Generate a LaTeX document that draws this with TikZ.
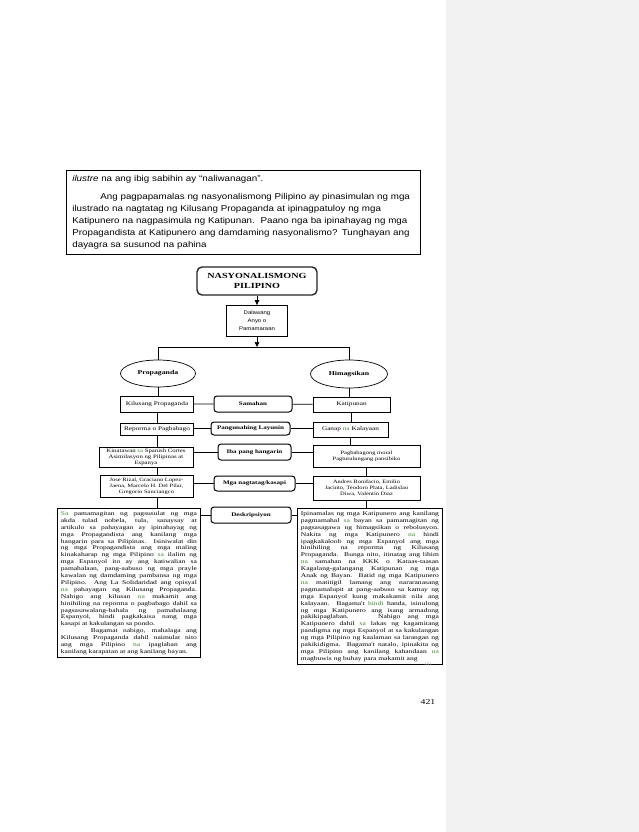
\documentclass[tikz,border=0pt]{standalone}
\usepackage{fontspec}
\usepackage{xcolor}
\usetikzlibrary{arrows.meta,positioning,shapes.geometric}
\newfontfamily\topfont[FakeStretch=1.15]{Liberation Sans}
\newfontfamily\diafont[FakeStretch=1.3]{Liberation Serif}
\definecolor{panelgrey}{HTML}{F2F2F2}
\definecolor{markgreen}{HTML}{3B8A2E}
\newcommand{\gmark}[1]{\textcolor{markgreen}{#1}}

\begin{document}
\begin{tikzpicture}[x=1pt,y=-1pt,
	titlebox/.style={draw=black!85,line width=1.4pt,rounded corners=5pt,minimum width=120pt,minimum height=28pt,align=center,font=\diafont\bfseries\fontsize{7.8}{10}\selectfont},
	anyobox/.style={draw=black,line width=0.8pt,minimum width=61pt,minimum height=31pt,align=center,font=\topfont\fontsize{5.2}{8}\selectfont},
	oval/.style={ellipse,draw=black,line width=0.7pt,inner sep=0pt,font=\diafont\bfseries\fontsize{6}{7}\selectfont},
	box/.style={draw=black,line width=0.7pt,inner sep=1pt,align=center,font=\diafont\fontsize{5.6}{6.4}\selectfont},
	midbox/.style={draw=black,line width=1pt,rounded corners=3pt,inner sep=1pt,align=center,font=\diafont\bfseries\fontsize{5.4}{6.4}\selectfont},
	para/.style={draw=black,line width=0.8pt,anchor=north west,inner xsep=3.5pt,inner ysep=3pt,align=justify,font=\diafont\fontsize{5.8}{6.9}\selectfont},
	link/.style={black,line width=0.7pt},
	down/.style={link,-{Triangle[length=5pt,width=4.5pt]}}]
	\fill[white] (0,0) rectangle (639,832);
	\fill[panelgrey] (446,0) rectangle (639,832);
	\useasboundingbox (0,0) rectangle (639,832);
	% text above the chart
	\node (intro) [draw=black,line width=0.8pt,anchor=north west,text width=342pt,inner xsep=6pt,inner ysep=5pt,align=left,font=\topfont\fontsize{8.5}{12}\selectfont] at (66,170)
		{\textit{ilustre} na ang ibig sabihin ay “naliwanagan”.\\[6pt]
		\hspace*{28pt}Ang pagpapamalas ng nasyonalismong Pilipino ay pinasimulan ng mga\\
		ilustrado na nagtatag ng Kilusang Propaganda at ipinagpatuloy ng mga\\
		Katipunero na nagpasimula ng Katipunan.\ \ Paano nga ba ipinahayag ng mga\\
		Propagandista at Katipunero ang damdaming nasyonalismo? Tunghayan ang\\
		dayagra sa susunod na pahina};
	% chart
	\path 	(257,281) node (title) [titlebox] {NASYONALISMONG\\PILIPINO}
		(257,321) node (anyo) [anyobox] {Dalawang\\Anyo o\\Pamamaraan}
		(158,373.5) node (prop) [oval,minimum width=75pt,minimum height=27pt] {Propaganda}
		(349,374) node (him) [oval,minimum width=77pt,minimum height=28pt] {Himagsikan};
	\coordinate (bar) at (257,347);
	\path 	(157,404) node (kil) [box,minimum width=73pt,minimum height=16pt] {Kilusang Propaganda}
		(157,429) node (rep) [box,minimum width=73pt,minimum height=12pt] {Reporma o Pagbabago}
		(146,457) node (kin) [box,minimum width=94pt,minimum height=20pt,font=\diafont\fontsize{5.2}{6}\selectfont] {Kinatawan \gmark{sa} Spanish Cortes\\Asimilasyon ng Pilipinas at\\Espanya}
		(146.5,486) node (jos) [box,minimum width=93pt,minimum height=22pt,font=\diafont\fontsize{5}{6}\selectfont] {Jose Rizal, Graciano Lopez-\\Jaena, Marcelo H. Del Pilar,\\Gregorio Sanciangco};
	\path 	(253,404) node (sam) [midbox,minimum width=78pt,minimum height=16pt] {Samahan}
		(250.5,428.5) node (lay) [midbox,minimum width=79pt,minimum height=13pt] {Pangunahing Layunin}
		(254.5,452) node (iba) [midbox,minimum width=73pt,minimum height=16pt] {Iba pang hangarin}
		(254.5,483.5) node (kas) [midbox,minimum width=81pt,minimum height=15pt] {Mga nagtatag/kasapi}
		(251,515) node (des) [midbox,minimum width=80pt,minimum height=16pt] {Deskripsiyon};
	\path 	(351.5,404.5) node (kat) [box,minimum width=77pt,minimum height=15pt] {Katipunan}
		(350.5,429.5) node (gan) [box,minimum width=75pt,minimum height=15pt] {Ganap \gmark{na} Kalayaan}
		(366.5,456) node (pag) [box,minimum width=107pt,minimum height=22pt,font=\diafont\fontsize{5}{6}\selectfont] {Pagbabagong moral\\Pagtutulungang pansibiko}
		(366.5,488) node (and) [box,minimum width=107pt,minimum height=24pt,font=\diafont\fontsize{5}{6}\selectfont] {Andres Bonifacio, Emilio\\Jacinto, Teodoro Plata, Ladislao\\Diwa, Valentin Diaz};
	\node (ltext) [para,text width=136pt] at (57,508)
		{\gmark{Sa} pamamagitan ng pagsusulat ng mga\linebreak
		akda tulad nobela, tula, sanaysay at\linebreak
		artikulo sa pahayagan ay ipinahayag ng\linebreak
		mga Propagandista ang kanilang mga\linebreak
		hangarin para sa Pilipinas.\ \ Isiniwalat din\linebreak
		ng mga Propagandista ang mga maling\linebreak
		kinakaharap ng mga Pilipino \gmark{sa} ilalim ng\linebreak
		mga Espanyol ito ay ang katiwalian sa\linebreak
		pamahalaan, pang-aabuso ng mga prayle\linebreak
		kawalan ng damdaming pambansa ng mga\linebreak
		Pilipino.\ \ Ang La Solidaridad ang opisyal\linebreak
		\gmark{na} pahayagan ng Kilusang Propaganda.\linebreak
		Nabigo ang kilusan \gmark{na} makamit ang\linebreak
		hinihiling na reporma o pagbabago dahil sa\linebreak
		pagsasawalang-bahala ng pamahalaang\linebreak
		Espanyol, hindi pagkakaisa nang mga\linebreak
		kasapi at kakulangan sa pondo.\par
		\hspace*{30pt}Bagamat nabigo, mahalaga ang\linebreak
		Kilusang Propaganda dahil naimulat nito\linebreak
		ang mga Pilipino \gmark{na} ipaglaban ang\linebreak
		kanilang karapatan at ang kanilang bayan.};
	\node (rtext) [para,text width=138pt] at (297,508)
		{\parfillskip=0pt Ipinamalas ng mga Katipunero ang kanilang\linebreak
		pagmamahal \gmark{sa} bayan sa pamamagitan ng\linebreak
		pagsasagawa ng himagsikan o rebolusyon.\linebreak
		Nakita ng mga Katipunero \gmark{na} hindi\linebreak
		ipagkakaloob ng mga Espanyol ang mga\linebreak
		hinihiling na reporma ng Kilusang\linebreak
		Propaganda.\ \ Bunga nito, itinatag ang lihim\linebreak
		\gmark{na} samahan na KKK o Kataas-taasan\linebreak
		Kagalang-galangang Katipunan ng mga\linebreak
		Anak ng Bayan.\ \ Batid ng mga Katipunero\linebreak
		\gmark{na} matitigil lamang ang nararanasang\linebreak
		pagmamalupit at pang-aabuso sa kamay ng\linebreak
		mga Espanyol kung makakamit nila ang\linebreak
		kalayaan.\ \ Bagama't \gmark{hindi} handa, isinulong\linebreak
		ng mga Katipunero ang isang armadong\linebreak
		pakikipaglaban.\ \ \ \ Nabigo ang mga\linebreak
		Katipunero dahil \gmark{sa} lakas ng kagamitang\linebreak
		pandigma ng mga Espanyol at sa kakulangan\linebreak
		ng mga Pilipino ng kaalaman sa larangan ng\linebreak
		pakikidigma.\ \ Bagama't natalo, ipinakita ng\linebreak
		mga Pilipino ang kanilang kahandaan \gmark{na}\linebreak
		magbuwis ng buhay para makamit ang};
	% connectors
	\draw [down] (title.south) -- (anyo.north);
	\draw [down] (anyo.south) -- (bar);
	\draw [link] (prop.north) -- (prop.north |- bar) -| (him.north);
	\draw [link] (prop.south) -- (prop.south |- kil.north);
	\draw [link] (kil.south) -- (kil.south |- rep.north);
	\draw [link] (rep.south) -- (rep.south |- kin.north);
	\draw [link] (rep.south |- kin.south) -- (rep.south |- jos.north);
	\draw [link] (rep.south |- jos.south) -- (rep.south |- ltext.north);
	\draw [link] (him.south) -- (him.south |- kat.north);
	\draw [link] (kat.south) -- (kat.south |- gan.north);
	\draw [link] (gan.south) -- (gan.south |- pag.north);
	\draw [link] (pag.south) -- (pag.south |- and.north);
	\draw [link] (and.south) -- (and.south |- rtext.north);
	\draw [link] (kil) -- (sam) -- (kat);
	\draw [link] (lay.west) -- (lay.west -| rep.east);
	\draw [link] (lay.east) -- (lay.east -| gan.west);
	\draw [link] (iba.west) -- (iba.west -| kin.east);
	\draw [link] (iba.east) -- (iba.east -| pag.west);
	\draw [link] (kas.west) -- (kas.west -| jos.east);
	\draw [link] (kas.east) -- (kas.east -| and.west);
	\draw [link] (des.west) -- (des.west -| ltext.east);
	\draw [link] (des.east) -- (des.east -| rtext.west);
	% page numbers
	\node (pnum) [font=\diafont\fontsize{7.5}{9}\selectfont] at (428,702) {421};
	\node (pold) [text=black!35,font=\diafont\fontsize{4}{5}\selectfont] at (428,664) {341};
\end{tikzpicture}
\end{document}
